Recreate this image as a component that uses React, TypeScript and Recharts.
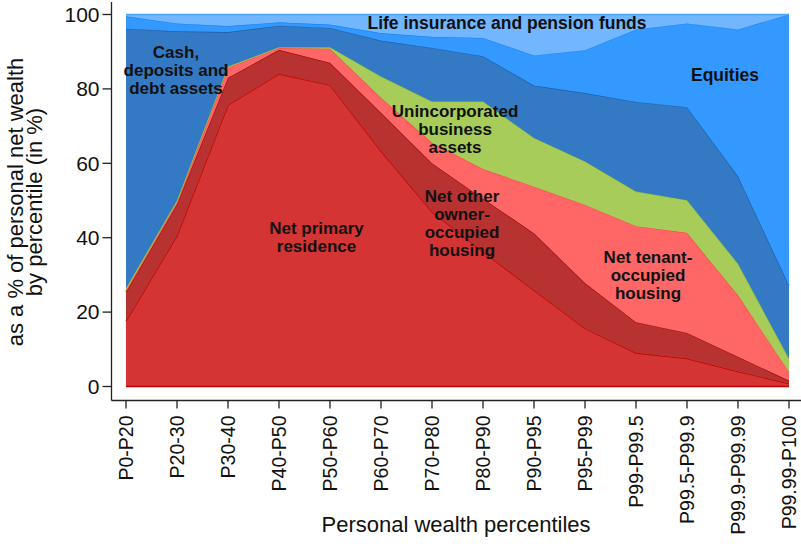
import { AreaChart, Area, XAxis, YAxis, ReferenceLine } from 'recharts';

const percentiles = [
  'P0-P20', 'P20-30', 'P30-40', 'P40-P50', 'P50-P60', 'P60-P70', 'P70-P80',
  'P80-P90', 'P90-P95', 'P95-P99', 'P99-P99.5', 'P99.5-P99.9', 'P99.9-P99.99', 'P99.99-P100',
];

// shares of personal net wealth, in %, stacked bottom to top
const primaryResidence = [17.5, 40.5, 75.6, 84, 81, 63.3, 47, 36.2, 25.9, 15.6, 9, 7.5, 4, 0.8];
const otherOwnerHousing = [7.9, 8.5, 7.4, 6.5, 6, 10.3, 13, 14.3, 15.3, 12.2, 8.3, 6.9, 4, 0.8];
const tenantHousing = [0.4, 0.5, 2.7, 0.5, 3.8, 4, 5.5, 8, 12.5, 21, 25.8, 26.9, 16.5, 2.3];
const businessAssets = [0.6, 0.5, 0.3, 0.2, 0.4, 5.7, 11.1, 18.1, 13.1, 11.7, 9.3, 8.8, 8.5, 3.6];
const cashDeposits = [69.8, 45.5, 9.3, 5.8, 5.2, 9.7, 14.4, 12.2, 14.1, 18.4, 24.1, 25, 23.5, 19.7];
const equities = [3.3, 2.1, 1.6, 0.9, 0.9, 2, 3, 4.9, 8.1, 11.5, 19.5, 22.5, 39.5, 72.8];
const lifeInsurance = [0.5, 2.4, 3.1, 2.1, 2.7, 5, 6, 6.3, 11, 9.6, 4, 2.4, 4, 0];

const yTicks = [0, 20, 40, 60, 80, 100];

const data = percentiles.map((pct, i) => ({
  pct,
  primary: primaryResidence[i],
  other: otherOwnerHousing[i],
  tenant: tenantHousing[i],
  business: businessAssets[i],
  cash: cashDeposits[i],
  equities: equities[i],
  life: lifeInsurance[i],
}));

const FONT = '"Liberation Sans", Arial, Helvetica, sans-serif';
const AXIS_X = 111.5;
const AXIS_Y = 400.5;

const XTick = ({ x, payload }: any) => (
  <g>
    <line x1={x} x2={x} y1={AXIS_Y} y2={AXIS_Y + 8} stroke="#222" strokeWidth={1.3} />
    <text
      transform={`translate(${x},${AXIS_Y + 15}) rotate(-90)`}
      textAnchor="end"
      dy="0.35em"
      fontSize={19.5}
      fontFamily={FONT}
      fill="#111"
    >
      {payload.value}
    </text>
  </g>
);

const YTick = ({ y, payload }: any) => (
  <g>
    <line x1={AXIS_X - 9} x2={AXIS_X} y1={y} y2={y} stroke="#222" strokeWidth={1.3} />
    <text x={AXIS_X - 12} y={y} dy="0.35em" textAnchor="end" fontSize={21} fontFamily={FONT} fill="#111">
      {payload.value}
    </text>
  </g>
);

// annotation blocks: x = centre, y = baseline centre of the block
const labels = [
  { x: 507, y: 29, size: 17.5, lines: ['Life insurance and pension funds'] },
  { x: 176, y: 75.5, size: 17, lines: ['Cash,', 'deposits and', 'debt assets'] },
  { x: 725, y: 80.5, size: 17.5, lines: ['Equities'] },
  { x: 455, y: 134.5, size: 17, lines: ['Unincorporated', 'business', 'assets'] },
  { x: 316.5, y: 243, size: 17, lines: ['Net primary', 'residence'] },
  { x: 462, y: 228.7, size: 17, lines: ['Net other', 'owner-', 'occupied', 'housing'] },
  { x: 648, y: 280.5, size: 17, lines: ['Net tenant-', 'occupied', 'housing'] },
];
const LINE_GAP = 18;

export default function App() {
  return (
    <div style={{ position: 'absolute', left: 0, top: 0, width: 801, height: 546, background: '#fff' }}>
      <AreaChart
        width={801}
        height={546}
        data={data}
        margin={{ top: 14.5, right: 12, left: 0, bottom: 0 }}
      >
        <XAxis
          dataKey="pct"
          interval={0}
          axisLine={false}
          tickLine={false}
          height={159.5}
          tick={<XTick />}
        />
        <YAxis
          domain={[0, 100]}
          ticks={yTicks}
          axisLine={false}
          tickLine={false}
          width={126}
          tick={<YTick />}
        />
        <Area type="linear" dataKey="primary" stackId="1" fill="#D43434" fillOpacity={1} stroke="#C40000" strokeWidth={1.3} isAnimationActive={false} />
        <Area type="linear" dataKey="other" stackId="1" fill="#B83232" fillOpacity={1} stroke="#9C0E0E" strokeWidth={1.3} isAnimationActive={false} />
        <Area type="linear" dataKey="tenant" stackId="1" fill="#FF6666" fillOpacity={1} stroke="#FF4848" strokeWidth={1.3} isAnimationActive={false} />
        <Area type="linear" dataKey="business" stackId="1" fill="#A8CC5A" fillOpacity={1} stroke="#92C036" strokeWidth={1.3} isAnimationActive={false} />
        <Area type="linear" dataKey="cash" stackId="1" fill="#3479C4" fillOpacity={1} stroke="#1D5EAC" strokeWidth={1.3} isAnimationActive={false} />
        <Area type="linear" dataKey="equities" stackId="1" fill="#3399FF" fillOpacity={1} stroke="#1E84EE" strokeWidth={1.3} isAnimationActive={false} />
        <Area type="linear" dataKey="life" stackId="1" fill="#72B6FF" fillOpacity={1} stroke="#4DA4FF" strokeWidth={1.3} isAnimationActive={false} />
        <ReferenceLine y={0} stroke="#C40000" strokeWidth={1.5} />
      </AreaChart>
      <svg
        width={801}
        height={546}
        style={{ position: 'absolute', left: 0, top: 0, pointerEvents: 'none' }}
      >
        <line x1={AXIS_X} x2={AXIS_X} y1={2} y2={AXIS_Y} stroke="#222" strokeWidth={1.3} />
        <line x1={AXIS_X} x2={801} y1={AXIS_Y} y2={AXIS_Y} stroke="#222" strokeWidth={1.3} />
        {labels.map((l, i) => {
          const first = l.y - ((l.lines.length - 1) * LINE_GAP) / 2;
          return (
            <text key={i} textAnchor="middle" fontFamily={FONT} fontWeight="bold" fontSize={l.size} fill="#111">
              {l.lines.map((s, j) => (
                <tspan key={j} x={l.x} y={first + j * LINE_GAP}>{s}</tspan>
              ))}
            </text>
          );
        })}
        <text x={456} y={532} textAnchor="middle" fontFamily={FONT} fontSize={22} fill="#111">
          Personal wealth percentiles
        </text>
        <text transform="translate(22.5,202) rotate(-90)" textAnchor="middle" fontFamily={FONT} fontSize={22} fill="#111">
          as a % of personal net wealth
        </text>
        <text transform="translate(42,202) rotate(-90)" textAnchor="middle" fontFamily={FONT} fontSize={22} fill="#111">
          by percentile (in %)
        </text>
      </svg>
    </div>
  );
}
